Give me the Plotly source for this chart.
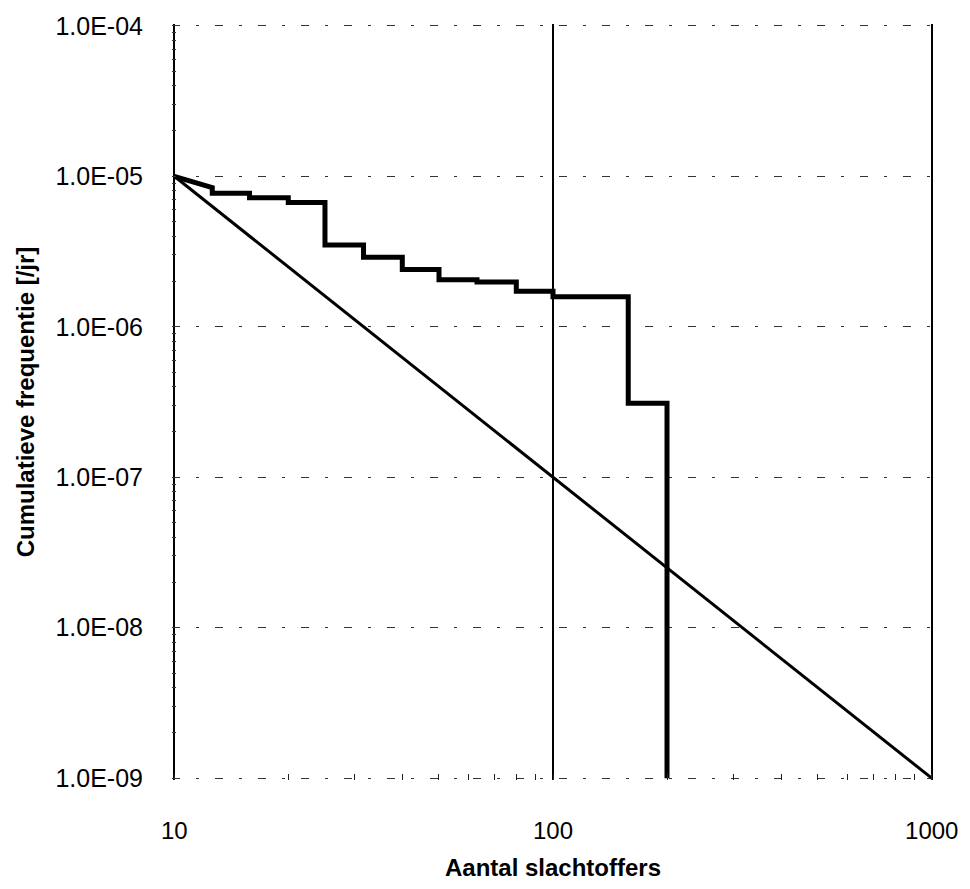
import plotly.graph_objects as go

# FN-curve (step line) vertices
step_x = [10, 12.6, 12.6, 15.8, 15.8, 20, 20, 25, 25, 31.6, 31.6, 40, 40, 50, 50, 63, 63, 80, 80, 100, 100, 158, 158, 200, 200]
step_y = [1.0e-5, 8.4e-6, 7.7e-6, 7.7e-6, 7.2e-6, 7.2e-6, 6.7e-6, 6.7e-6, 3.5e-6, 3.5e-6, 2.9e-6, 2.9e-6,
          2.4e-6, 2.4e-6, 2.05e-6, 2.05e-6, 1.98e-6, 1.98e-6, 1.72e-6, 1.72e-6, 1.58e-6, 1.58e-6, 3.1e-7, 3.1e-7, 1.0e-9]

# Norm line
norm_x = [10, 1000]
norm_y = [1.0e-5, 1.0e-9]

x_ticks = [10, 100, 1000]
x_ticktext = ["10", "100", "1000"]
y_ticks = [1e-9, 1e-8, 1e-7, 1e-6, 1e-5, 1e-4]
y_ticktext = ["1.0E-09", "1.0E-08", "1.0E-07", "1.0E-06", "1.0E-05", "1.0E-04"]

fig = go.Figure()
fig.add_trace(go.Scatter(x=norm_x, y=norm_y, mode="lines",
                         line=dict(color="black", width=3), showlegend=False, cliponaxis=False))
fig.add_trace(go.Scatter(x=step_x, y=step_y, mode="lines",
                         line=dict(color="black", width=5), showlegend=False))

font = "Liberation Sans, Arial, sans-serif"
ex = 0.006
ey = 0.012
fig.update_layout(
    width=970, height=889,
    margin=dict(l=172, r=29, t=23, b=100),
    paper_bgcolor="white", plot_bgcolor="white",
    font=dict(family=font, size=25, color="black"),
    xaxis=dict(
        type="log", range=[1 - ex, 3 + ex],
        tickvals=x_ticks, ticktext=x_ticktext, tickfont=dict(size=24),
        showgrid=True, gridcolor="black", gridwidth=1.5,
        showline=False, zeroline=False,
        ticks="", ticklabelstandoff=34,
        minor=dict(ticks="inside", ticklen=6, tickcolor="#222", dtick="D1", showgrid=False),
        title=dict(text="<b>Aantal slachtoffers</b>", font=dict(size=24), standoff=16),
    ),
    yaxis=dict(
        type="log", range=[-9 - ey, -4 + ey],
        tickvals=y_ticks, ticktext=y_ticktext,
        showgrid=True, gridcolor="#333", gridwidth=1.2, griddash="8px,16px,3px,16px",
        showline=False, zeroline=False,
        ticks="", ticklabelstandoff=28,
        minor=dict(ticks="inside", ticklen=4, tickcolor="#333", dtick="D1", showgrid=False),
        title=dict(text="<b>Cumulatieve frequentie [/jr]</b>", font=dict(size=24), standoff=14),
    ),
)

fig.write_html("out.html", config={"displayModeBar": False},
               post_script="document.body.style.margin='0';")
